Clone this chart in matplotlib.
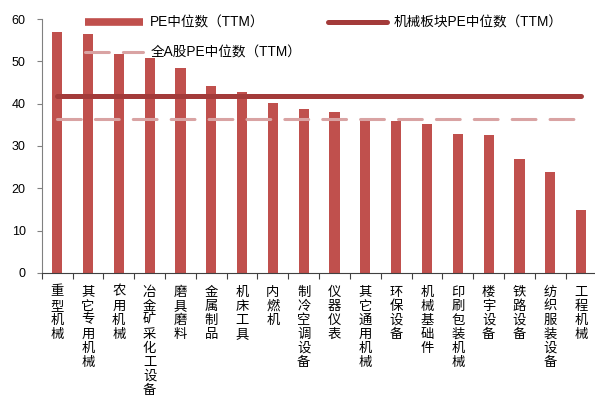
import numpy as np
import matplotlib
matplotlib.use("Agg")
import matplotlib.pyplot as plt
from matplotlib.lines import Line2D

plt.rcParams['font.family'] = ['Liberation Sans', 'Noto Sans CJK SC', 'DejaVu Sans']

# 各子行业 PE 中位数（TTM）
industries = ["重型机械", "其它专用机械", "农用机械", "冶金矿采化工设备", "磨具磨料",
              "金属制品", "机床工具", "内燃机", "制冷空调设备", "仪器仪表",
              "其它通用机械", "环保设备", "机械基础件", "印刷包装机械", "楼宇设备",
              "铁路设备", "纺织服装设备", "工程机械"]
pe_median = [57.0, 56.5, 51.7, 50.8, 48.5, 44.2, 42.8, 40.2, 38.7, 38.0,
             36.3, 36.0, 35.2, 32.8, 32.5, 26.9, 23.9, 14.8]
machinery_pe = 41.7
all_a_pe = 36.3

bar_color = "#C0504D"
mach_color = "#A33B3A"
alla_color = "#D9A3A3"

fig = plt.figure(figsize=(5.95, 3.96), dpi=100)
ax = fig.add_axes([0.0701, 0.311, 0.9325, 0.641])

x = np.arange(len(industries))
ax.bar(x, pe_median, width=0.33, color=bar_color, zorder=2)
ax.plot([x[0], x[-1]], [machinery_pe, machinery_pe], color=mach_color, lw=3.6,
        solid_capstyle="round", zorder=3)
ax.plot([x[0], x[-1]], [all_a_pe, all_a_pe], color=alla_color, lw=2.2,
        dashes=(7.8, 4.6), dash_capstyle="round", zorder=3)

ax.set_xlim(-0.5, len(industries) - 0.5)
ax.set_ylim(0, 60)
ax.set_yticks(range(0, 61, 10))
ax.tick_params(axis="y", labelsize=9, length=3.5, pad=8, color="#808080")

# 刻度线在类别之间，标签竖排
ax.set_xticks(x - 0.5, [""] * len(x))
ax.set_xticks(x, ["\n".join(s) for s in industries], minor=True)
ax.tick_params(axis="x", which="major", length=4, color="#404040")
ax.tick_params(axis="x", which="minor", length=0, pad=8.5, labelsize=9.6)
for lbl in ax.get_xticklabels(minor=True):
    lbl.set_family(["Noto Sans CJK SC"])
    lbl.set_linespacing(1.0)
    lbl.set_verticalalignment("top")

for s in ["top", "right"]:
    ax.spines[s].set_visible(False)
ax.spines["left"].set_color("#808080")
ax.spines["bottom"].set_color("#404040")

handles = [Line2D([], [], color=bar_color, lw=5.5, solid_capstyle="butt"),
           Line2D([], [], color=alla_color, lw=2.2, dashes=(7.8, 4.6), dash_capstyle="round"),
           Line2D([], [], color=mach_color, lw=3.6, solid_capstyle="round")]
labels = ["PE中位数（TTM）", "全A股PE中位数（TTM）", "机械板块PE中位数（TTM）"]
fig.legend(handles, labels, ncol=2, loc="upper left", bbox_to_anchor=(0.122, 0.992),
           frameon=False, fontsize=9.8, handlelength=4.3, handletextpad=0.5,
           columnspacing=2.0, labelspacing=1.2)

fig.savefig("out.png", dpi=100)
